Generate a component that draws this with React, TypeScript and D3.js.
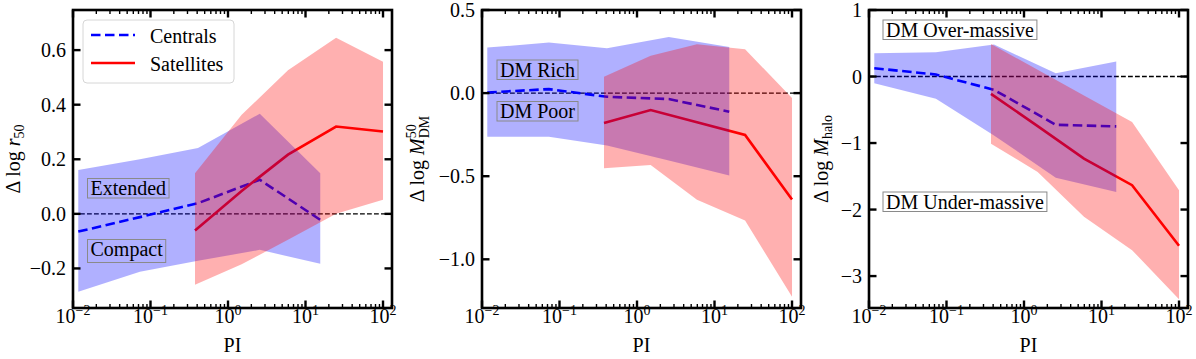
import React, { useEffect, useRef } from 'react';
import * as d3 from 'd3';

// ---------- data ----------
const centralPI = [0.0117, 0.073, 0.41, 2.57, 15.5];
const satellitePI = [0.375, 1.5, 5.94, 24.8, 100];

// Panel 1: Δ log r50
const r50CenMed = [-0.065, -0.012, 0.039, 0.125, -0.022];
const r50CenLo = [-0.285, -0.212, -0.172, -0.132, -0.183];
const r50CenHi = [0.161, 0.2, 0.241, 0.367, 0.149];
const r50SatMed = [-0.061, 0.084, 0.217, 0.32, 0.302];
const r50SatLo = [-0.26, -0.185, -0.095, 0.0, 0.052];
const r50SatHi = [0.149, 0.363, 0.526, 0.645, 0.557];

// Panel 2: Δ log M_DM^50
const mdmCenMed = [0.004, 0.024, -0.022, -0.036, -0.112];
const mdmCenLo = [-0.262, -0.262, -0.316, -0.406, -0.496];
const mdmCenHi = [0.274, 0.304, 0.27, 0.338, 0.278];
const mdmSatMed = [-0.18, -0.102, -0.176, -0.252, -0.64];
const mdmSatLo = [-0.452, -0.432, -0.642, -0.766, -1.226];
const mdmSatHi = [0.098, 0.224, 0.294, 0.264, -0.03];

// Panel 3: Δ log M_halo
const mhCenMed = [0.125, 0.03, -0.2, -0.725, -0.75];
const mhCenLo = [-0.1, -0.335, -0.885, -1.52, -1.735];
const mhCenHi = [0.35, 0.365, 0.48, 0.05, 0.225];
const mhSatMed = [-0.26, -0.745, -1.235, -1.634, -2.544];
const mhSatLo = [-1.01, -1.435, -2.11, -2.61, -3.35];
const mhSatHi = [0.49, 0.1, -0.285, -0.685, -1.71];

const xTickExponents = [-2, -1, 0, 1, 2];
const r50Ticks = [-0.2, 0.0, 0.2, 0.4, 0.6];
const mdmTicks = [-1.0, -0.5, 0.0, 0.5];
const mhTicks = [-3, -2, -1, 0, 1];

const legendLabels = ['Centrals', 'Satellites'];

const W = 1196;
const H = 359;
const FONT = '"Liberation Serif", "Times New Roman", serif';

type Ann = { text: string; x: number; y: number };

const panels = [
  {
    left: 73, yDomain: [-0.345, 0.747], ticks: r50Ticks, fmt: (v: number) => d3.format('.1f')(v),
    cen: { med: r50CenMed, lo: r50CenLo, hi: r50CenHi },
    sat: { med: r50SatMed, lo: r50SatLo, hi: r50SatHi },
    ylabelX: 20, ylabel: 'r50',
    anns: [{ text: 'Extended', x: 90.5, y: 195 }, { text: 'Compact', x: 90.5, y: 256 }] as Ann[],
    legend: true,
  },
  {
    left: 482, yDomain: [-1.293, 0.5], ticks: mdmTicks, fmt: (v: number) => d3.format('.1f')(v),
    cen: { med: mdmCenMed, lo: mdmCenLo, hi: mdmCenHi },
    sat: { med: mdmSatMed, lo: mdmSatLo, hi: mdmSatHi },
    ylabelX: 424, ylabel: 'mdm',
    anns: [{ text: 'DM Rich', x: 500, y: 76.5 }, { text: 'DM Poor', x: 500, y: 118 }] as Ann[],
    legend: false,
  },
  {
    left: 869, yDomain: [-3.48, 1.0], ticks: mhTicks, fmt: (v: number) => d3.format('d')(v),
    cen: { med: mhCenMed, lo: mhCenLo, hi: mhCenHi },
    sat: { med: mhSatMed, lo: mhSatLo, hi: mhSatHi },
    ylabelX: 828, ylabel: 'mh',
    anns: [{ text: 'DM Over-massive', x: 886, y: 36.5 }, { text: 'DM Under-massive', x: 886, y: 208.5 }] as Ann[],
    legend: false,
  },
];

const PW = 319;
const TOP = 10;
const BOTTOM = 308;

function fmtMinus(s: string) {
  return s.replace('-', '\u2212');
}

export default function App() {
  const ref = useRef<SVGSVGElement | null>(null);

  useEffect(() => {
    const svg = d3.select(ref.current);
    svg.selectAll('*').remove();
    svg.append('rect').attr('width', W).attr('height', H).attr('fill', 'white');

    panels.forEach((p, pi) => {
      const x = d3.scaleLog().domain([0.01, 130.6]).range([p.left, p.left + PW]);
      const y = d3.scaleLinear().domain(p.yDomain).range([BOTTOM, TOP]);
      const g = svg.append('g');
      const clipId = `clip${pi}`;
      svg.append('clipPath').attr('id', clipId).append('rect')
        .attr('x', p.left).attr('y', TOP).attr('width', PW).attr('height', BOTTOM - TOP);
      const plot = g.append('g').attr('clip-path', `url(#${clipId})`);

      // zero line
      plot.append('line').attr('x1', p.left).attr('x2', p.left + PW)
        .attr('y1', y(0)).attr('y2', y(0))
        .attr('stroke', 'black').attr('stroke-width', 1.3).attr('stroke-dasharray', '4.8,2.2');

      const cenData = centralPI.map((v, i) => ({ pi: v, med: p.cen.med[i], lo: p.cen.lo[i], hi: p.cen.hi[i] }));
      const satData = satellitePI.map((v, i) => ({ pi: v, med: p.sat.med[i], lo: p.sat.lo[i], hi: p.sat.hi[i] }));
      const line = d3.line<any>().x(d => x(d.pi)).y(d => y(d.med));
      const area = d3.area<any>().x(d => x(d.pi)).y0(d => y(d.lo)).y1(d => y(d.hi));

      plot.append('path').attr('d', line(cenData)).attr('fill', 'none')
        .attr('stroke', '#0000ff').attr('stroke-width', 2.6).attr('stroke-dasharray', '9.5,4.5');
      plot.append('path').attr('d', line(satData)).attr('fill', 'none')
        .attr('stroke', '#ff0000').attr('stroke-width', 2.6);
      plot.append('path').attr('d', area(cenData)).attr('fill', '#0000ff').attr('fill-opacity', 0.31);
      plot.append('path').attr('d', area(satData)).attr('fill', '#ff0000').attr('fill-opacity', 0.31);

      // annotations
      p.anns.forEach(a => {
        const t = g.append('text').attr('x', a.x).attr('y', a.y).attr('font-family', FONT)
          .attr('font-size', 20).attr('fill', 'black').text(a.text);
        const w = (t.node() as SVGTextElement).getComputedTextLength();
        const desc = /[pgqy]/.test(a.text) ? 3.5 : 0;
        g.insert('rect', 'text')
          .attr('x', a.x - 3).attr('y', a.y - 16.5).attr('width', w + 6).attr('height', 16.5 + 3 + desc)
          .attr('fill', 'none').attr('stroke', '#8a8a8a').attr('stroke-width', 1);
      });

      // spines
      g.append('rect').attr('x', p.left).attr('y', TOP).attr('width', PW).attr('height', BOTTOM - TOP)
        .attr('fill', 'none').attr('stroke', 'black').attr('stroke-width', 2.6);

      // x ticks
      xTickExponents.forEach(e => {
        const v = Math.pow(10, e);
        const px = x(v);
        [BOTTOM, TOP].forEach((yy, k) => {
          g.append('line').attr('x1', px).attr('x2', px).attr('y1', yy).attr('y2', k === 0 ? yy - 7.5 : yy + 7.5)
            .attr('stroke', 'black').attr('stroke-width', 2.4);
        });
        for (let m = 2; m <= 9; m++) {
          const mv = m * v;
          if (mv > 130.6) break;
          const mx = x(mv);
          [BOTTOM, TOP].forEach((yy, k) => {
            g.append('line').attr('x1', mx).attr('x2', mx).attr('y1', yy).attr('y2', k === 0 ? yy - 4 : yy + 4)
              .attr('stroke', 'black').attr('stroke-width', 1.4);
          });
        }
        const t = g.append('text').attr('x', px).attr('y', 323).attr('text-anchor', 'middle')
          .attr('font-family', FONT).attr('font-size', 20).attr('fill', 'black');
        t.append('tspan').text('10');
        t.append('tspan').attr('font-size', 14).attr('dy', -8).text(fmtMinus(String(e)));
      });

      // y ticks
      p.ticks.forEach(v => {
        const py = y(v);
        g.append('line').attr('x1', p.left).attr('x2', p.left + 7.5).attr('y1', py).attr('y2', py)
          .attr('stroke', 'black').attr('stroke-width', 2.4);
        g.append('line').attr('x1', p.left + PW).attr('x2', p.left + PW - 7.5).attr('y1', py).attr('y2', py)
          .attr('stroke', 'black').attr('stroke-width', 2.4);
        g.append('text').attr('x', p.left - 7).attr('y', py + 7).attr('text-anchor', 'end')
          .attr('font-family', FONT).attr('font-size', 20).attr('fill', 'black')
          .text(fmtMinus(p.fmt(v)));
      });

      // x label
      g.append('text').attr('x', p.left + PW / 2).attr('y', 352).attr('text-anchor', 'middle')
        .attr('font-family', FONT).attr('font-size', 20).attr('fill', 'black').text('PI');

      // y label
      const yl = g.append('text').attr('transform', `translate(${p.ylabelX},${(TOP + BOTTOM) / 2}) rotate(-90)`)
        .attr('text-anchor', 'middle').attr('font-family', FONT).attr('font-size', 20).attr('fill', 'black');
      yl.append('tspan').text('\u0394 log ');
      if (p.ylabel === 'r50') {
        yl.append('tspan').attr('font-style', 'italic').text('r');
        yl.append('tspan').attr('font-size', 14).attr('dy', 4).text('50');
      } else if (p.ylabel === 'mdm') {
        yl.append('tspan').attr('font-style', 'italic').text('M');
        yl.append('tspan').attr('font-size', 14).attr('dy', -8).text('50');
        yl.append('tspan').attr('font-size', 14).attr('dx', -14).attr('dy', 13).text('DM');
      } else {
        yl.append('tspan').attr('font-style', 'italic').text('M');
        yl.append('tspan').attr('font-size', 14).attr('dy', 4).text('halo');
      }

      if (p.legend) {
        const lg = g.append('g');
        lg.append('rect').attr('x', 83).attr('y', 20).attr('width', 151).attr('height', 63).attr('rx', 4)
          .attr('fill', 'white').attr('fill-opacity', 0.85).attr('stroke', '#d6d6d6').attr('stroke-width', 1);
        lg.append('line').attr('x1', 91).attr('x2', 135).attr('y1', 35).attr('y2', 35)
          .attr('stroke', '#0000ff').attr('stroke-width', 2.6).attr('stroke-dasharray', '9.5,4.5');
        lg.append('line').attr('x1', 91).attr('x2', 135).attr('y1', 63).attr('y2', 63)
          .attr('stroke', '#ff0000').attr('stroke-width', 2.6);
        legendLabels.forEach((lab, i) => {
          lg.append('text').attr('x', 150).attr('y', i === 0 ? 42.5 : 71).attr('font-family', FONT)
            .attr('font-size', 20).attr('fill', 'black').text(lab);
        });
      }
    });
  }, []);

  return (
    <div style={{ position: 'absolute', left: 0, top: 0 }}>
      <svg ref={ref} width={W} height={H} style={{ display: 'block' }} />
    </div>
  );
}
